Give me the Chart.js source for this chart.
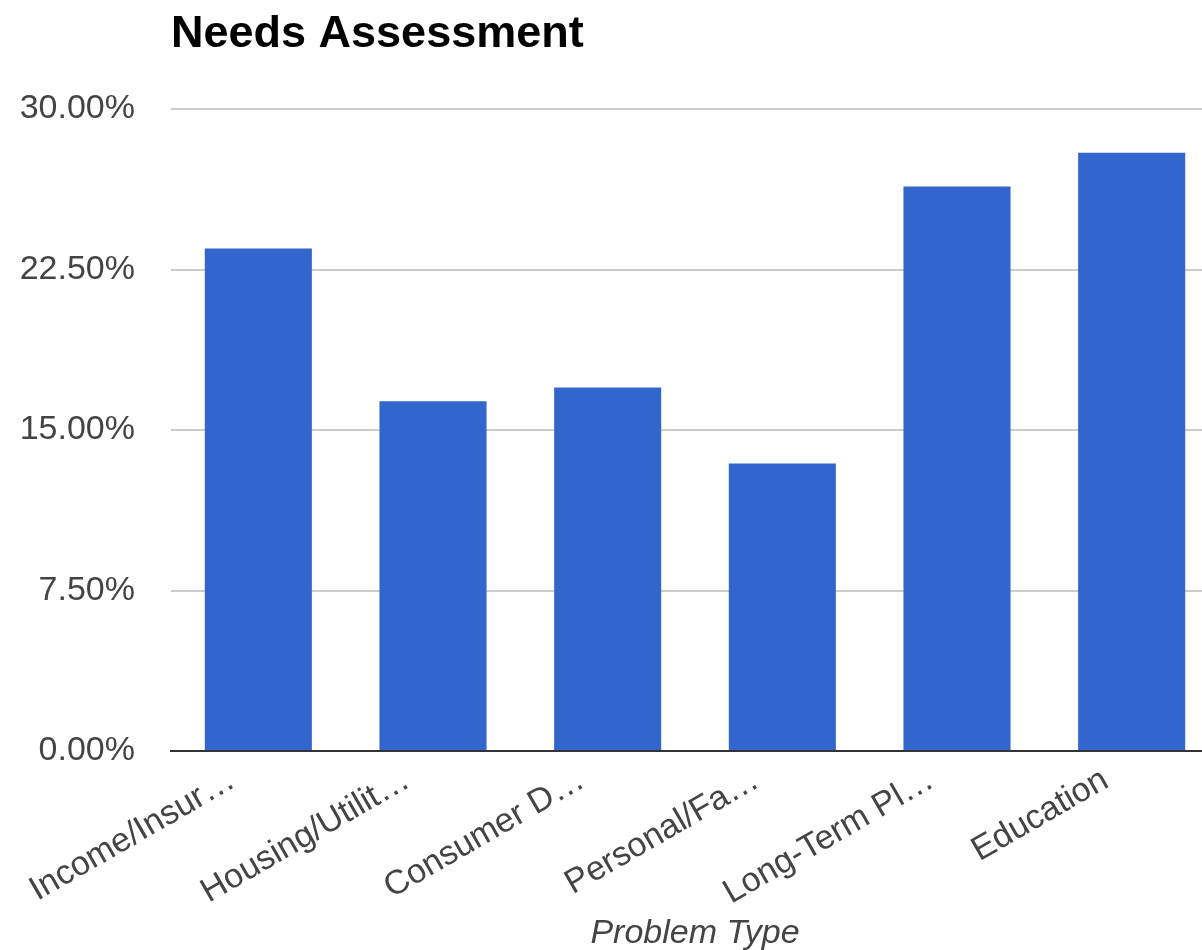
<!DOCTYPE html>
<html>
<head>
<meta charset="utf-8">
<script src="https://cdn.jsdelivr.net/npm/chart.js@4"></script>
<style>
html,body{margin:0;padding:0;background:#fff;overflow:hidden;}
#wrap{width:1240px;height:950px;position:relative;}
</style>
</head>
<body>
<div id="wrap"><canvas id="c"></canvas></div>
<script>
const categories = ["Income/Insur\u2026", "Housing/Utilit\u2026", "Consumer D\u2026", "Personal/Fa\u2026", "Long-Term Pl\u2026", "Education"];
const values = [23.48, 16.34, 16.99, 13.44, 26.38, 27.96];
const yTicks = [0, 7.5, 15, 22.5, 30];

const FONT = "Arial, 'Liberation Sans', sans-serif";

new Chart(document.getElementById('c'), {
  type: 'bar',
  data: {
    labels: categories,
    datasets: [{
      data: values,
      backgroundColor: '#3366cc',
      borderWidth: 0,
      categoryPercentage: 1,
      barPercentage: 0.613
    }]
  },
  options: {
    responsive: true,
    maintainAspectRatio: false,
    animation: false,
    layout: { padding: { left: 0, right: 21, top: 0, bottom: 0 } },
    plugins: {
      legend: { display: false },
      tooltip: { enabled: false },
      title: {
        display: true,
        text: 'Needs Assessment',
        align: 'start',
        fullSize: false,
        color: '#000',
        font: { family: FONT, size: 45, weight: 'bold' },
        padding: { top: 8, bottom: 47 }
      }
    },
    scales: {
      x: {
        afterFit: (s) => { s.height = 199; },
        grid: { display: false, drawTicks: false },
        border: { display: true, color: '#333', width: 2 },
        ticks: {
          color: '#444',
          font: { family: FONT, size: 34 },
          minRotation: 30,
          maxRotation: 30,
          autoSkip: false,
          padding: 9,
          labelOffset: -26
        },
        title: {
          display: true,
          text: 'Problem Type',
          color: '#444',
          font: { family: FONT, size: 34, style: 'italic' },
          padding: { top: 0, bottom: -4 }
        }
      },
      y: {
        min: 0,
        max: 30,
        afterBuildTicks: (s) => { s.ticks = yTicks.map(v => ({ value: v })); },
        afterFit: (s) => { s.width = 171; },
        grid: { color: '#cccccc', lineWidth: 2, drawTicks: false },
        border: { display: false },
        ticks: {
          color: '#444',
          font: { family: FONT, size: 34 },
          padding: 36,
          callback: (v) => Number(v).toFixed(2) + '%'
        }
      }
    }
  }
});
</script>
</body>
</html>
